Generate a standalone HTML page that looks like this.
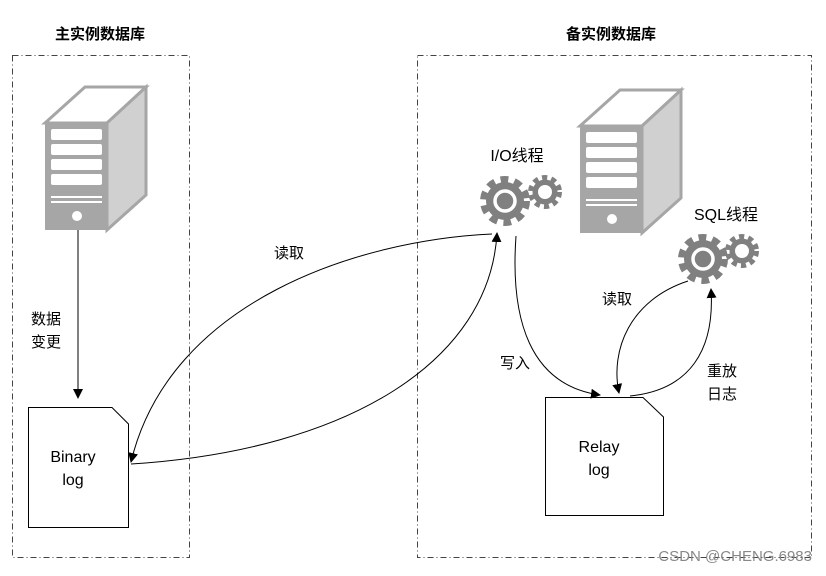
<!DOCTYPE html>
<html><head><meta charset="utf-8"><style>
body{margin:0;background:#fff}
svg text{font-family:"Liberation Sans","Noto Sans CJK SC",sans-serif;fill:#000}
</style></head><body>
<svg width="826" height="571" viewBox="0 0 826 571" xmlns="http://www.w3.org/2000/svg">
<defs>
<marker id="a" markerWidth="10" markerHeight="10" refX="9" refY="5" orient="auto" markerUnits="userSpaceOnUse"><path d="M0,0 L10,5 L0,10 z" fill="#000"/></marker>
<g id="gb"><circle r="21" fill="none" stroke="#808080" stroke-width="8" stroke-dasharray="7.5 6"/><circle r="19" fill="#808080"/><circle r="10" fill="none" stroke="#fff" stroke-width="3.5"/></g>
<g id="gs"><circle r="14" fill="none" stroke="#808080" stroke-width="6" stroke-dasharray="5 4"/><circle r="12.5" fill="#808080"/><circle r="7" fill="#fff"/></g>
<g id="srv">
<path d="M0,36 L40,0 L101,0 L62,36 z" fill="#fff" stroke="#a6a6a6" stroke-width="3"/>
<path d="M62,36 L101,0 L101,108 L62,143 z" fill="#d0d0d0" stroke="#a6a6a6" stroke-width="3"/>
<rect x="0" y="36" width="62" height="107" fill="#a6a6a6"/>
<rect x="6" y="42" width="51" height="11" rx="2" fill="#fff"/>
<rect x="6" y="57" width="51" height="11" rx="2" fill="#fff"/>
<rect x="6" y="72" width="51" height="11" rx="2" fill="#fff"/>
<rect x="6" y="87" width="51" height="11" rx="2" fill="#fff"/>
<rect x="6" y="109" width="51" height="2" fill="#fff"/>
<rect x="6" y="114" width="51" height="2" fill="#fff"/>
<circle cx="32" cy="129" r="5" fill="#fff"/>
</g>
</defs>
<rect x="12.5" y="55.5" width="177" height="502" fill="none" stroke="#444" stroke-dasharray="6 3 1 3"/>
<rect x="417.5" y="55.5" width="394" height="502" fill="none" stroke="#444" stroke-dasharray="6 3 1 3"/>
<text x="100" y="39" font-size="15" font-weight="bold" text-anchor="middle">主实例数据库</text>
<text x="611" y="39" font-size="15" font-weight="bold" text-anchor="middle">备实例数据库</text>
<use href="#srv" x="45" y="87"/>
<use href="#srv" x="580" y="90"/>
<line x1="78" y1="230" x2="78" y2="398" stroke="#000" marker-end="url(#a)"/>
<text x="46" y="324" font-size="15" text-anchor="middle">数据</text>
<text x="46" y="347" font-size="15" text-anchor="middle">变更</text>
<path d="M28.5,407.5 H112 L128.5,424 V527.5 H28.5 z" fill="#fff" stroke="#000"/>
<text x="73" y="462" font-size="16" text-anchor="middle">Binary</text>
<text x="73" y="485" font-size="16" text-anchor="middle">log</text>
<path d="M545.5,397.5 H643 L663.5,417 V515.5 H545.5 z" fill="#fff" stroke="#000"/>
<text x="599" y="452" font-size="16" text-anchor="middle">Relay</text>
<text x="599" y="475" font-size="16" text-anchor="middle">log</text>
<text x="517" y="161" font-size="16" text-anchor="middle">I/O线程</text>
<use href="#gb" x="505" y="201"/><use href="#gs" x="545" y="192"/>
<text x="726" y="220" font-size="16" text-anchor="middle">SQL线程</text>
<use href="#gb" x="703" y="259"/><use href="#gs" x="742" y="251"/>
<path d="M492,234 C360,240 170,300 131,462" fill="none" stroke="#000" marker-end="url(#a)"/>
<path d="M131,464 C350,450 490,360 497,233" fill="none" stroke="#000" marker-end="url(#a)"/>
<text x="289" y="258" font-size="15" text-anchor="middle">读取</text>
<path d="M516,236 C510,320 530,385 600,395" fill="none" stroke="#000" marker-end="url(#a)"/>
<text x="515" y="368" font-size="15" text-anchor="middle">写入</text>
<path d="M688,281 C630,300 610,350 619,393" fill="none" stroke="#000" marker-end="url(#a)"/>
<path d="M630,396 C690,390 715,350 711,289" fill="none" stroke="#000" marker-end="url(#a)"/>
<text x="617" y="304" font-size="15" text-anchor="middle">读取</text>
<text x="722" y="376" font-size="15" text-anchor="middle">重放</text>
<text x="722" y="399" font-size="15" text-anchor="middle">日志</text>
<text x="812" y="561" font-size="15" text-anchor="end" style="fill:#888">CSDN @CHENG.6983</text>
</svg>
</body></html>
